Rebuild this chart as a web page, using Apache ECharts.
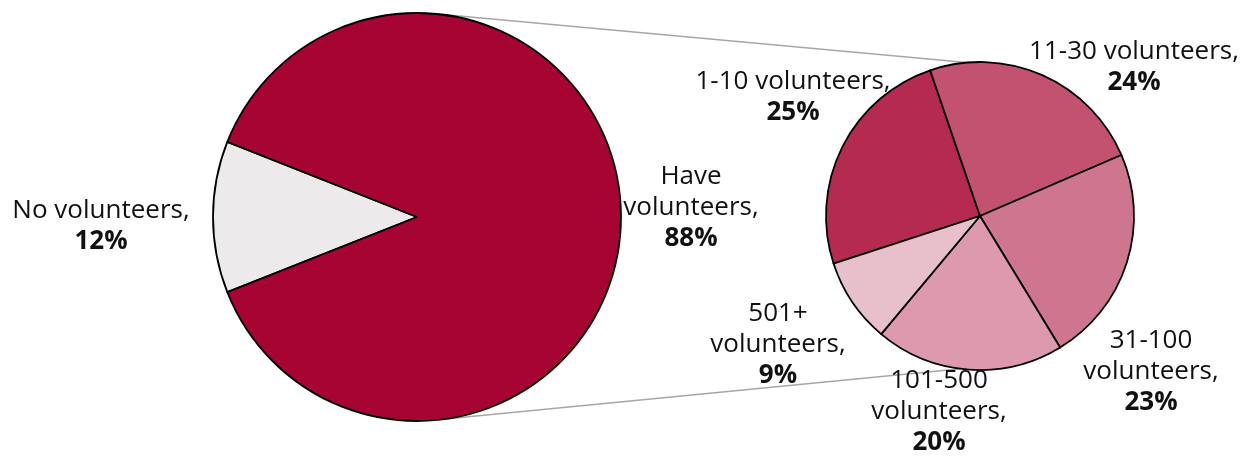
<!DOCTYPE html>
<html>
<head>
<meta charset="utf-8">
<script src="https://cdn.jsdelivr.net/npm/echarts@6/dist/echarts.min.js"></script>
<style>html,body{margin:0;padding:0;background:#fff;}#c{width:1250px;height:457px;}</style>
</head>
<body>
<div id="c"></div>
<script>
// ---- data ----
const mainCategories = ['No volunteers', 'Have volunteers'];
const mainLabels = ['No volunteers,', 'Have\nvolunteers,'];
const mainValues = [12, 88];

const subCategories = ['1-10 volunteers', '11-30 volunteers', '31-100 volunteers', '101-500 volunteers', '501+ volunteers'];
const subLabels = ['1-10 volunteers,', '11-30 volunteers,', '31-100\nvolunteers,', '101-500\nvolunteers,', '501+\nvolunteers,'];
const subValues = [25, 24, 23, 20, 9];

// ---- layout / style ----
const mainColors = ['#ECEAEB', '#A60533'];
const subColors = ['#B42A50', '#C35270', '#CE7690', '#DD9AAE', '#E8C0CB'];
const bigC = [417, 217], bigR = 204;
const smallC = [980, 216], smallR = 154;
const mainLabelPos = [[101, 226], [691, 208]];
const subLabelPos = [[793, 97], [1134, 67], [1151, 372], [939, 412], [778, 345]];

const FONT = '"Open Sans", sans-serif';
const rich = {
  n: { fontFamily: FONT, fontSize: 26, lineHeight: 31, color: '#111', fontWeight: 'normal' },
  p: { fontFamily: FONT, fontSize: 26, lineHeight: 31, color: '#111', fontWeight: 'bold' }
};
function fmt(labels) {
  return function (p) {
    const lines = labels[p.dataIndex].split('\n').map(l => '{n|' + l + '}');
    lines.push('{p|' + p.value + '%}');
    return lines.join('\n');
  };
}
function layoutFrom(pos) {
  return function (p) {
    return { x: pos[p.dataIndex][0], y: pos[p.dataIndex][1], align: 'center', verticalAlign: 'middle' };
  };
}
function pt(c, r, deg) {
  const a = deg * Math.PI / 180;
  return [c[0] + r * Math.cos(a), c[1] - r * Math.sin(a)];
}
const t1 = pt(bigC, bigR, 85), t2 = pt(smallC, smallR, 95);
const b1 = pt(bigC, bigR, -82), b2 = pt(smallC, smallR, -97);

const chart = echarts.init(document.getElementById('c'), null, { renderer: 'canvas' });
chart.setOption({
  animation: false,
  backgroundColor: '#fff',
  graphic: [
    { type: 'line', z: 0, shape: { x1: t1[0], y1: t1[1], x2: t2[0], y2: t2[1] }, style: { stroke: '#A6A6A6', lineWidth: 1.5 } },
    { type: 'line', z: 0, shape: { x1: b1[0], y1: b1[1], x2: b2[0], y2: b2[1] }, style: { stroke: '#A6A6A6', lineWidth: 1.5 } }
  ],
  series: [
    {
      type: 'pie',
      center: bigC,
      radius: bigR,
      startAngle: 180 + mainValues[0] / 100 * 180,
      clockwise: true,
      avoidLabelOverlap: false,
      silent: true,
      itemStyle: { borderColor: '#000', borderWidth: 1.8 },
      label: { show: true, position: 'outside', formatter: fmt(mainLabels), rich: rich, align: 'center' },
      labelLine: { show: false },
      labelLayout: layoutFrom(mainLabelPos),
      emphasis: { disabled: true },
      data: mainCategories.map((n, i) => ({ name: n, value: mainValues[i], itemStyle: { color: mainColors[i] } }))
    },
    {
      type: 'pie',
      center: smallC,
      radius: smallR,
      startAngle: 198,
      clockwise: true,
      avoidLabelOverlap: false,
      silent: true,
      itemStyle: { borderColor: '#000', borderWidth: 1.8 },
      label: { show: true, position: 'outside', formatter: fmt(subLabels), rich: rich, align: 'center' },
      labelLine: { show: false },
      labelLayout: layoutFrom(subLabelPos),
      emphasis: { disabled: true },
      data: subCategories.map((n, i) => ({ name: n, value: subValues[i], itemStyle: { color: subColors[i] } }))
    }
  ]
});
</script>
</body>
</html>
